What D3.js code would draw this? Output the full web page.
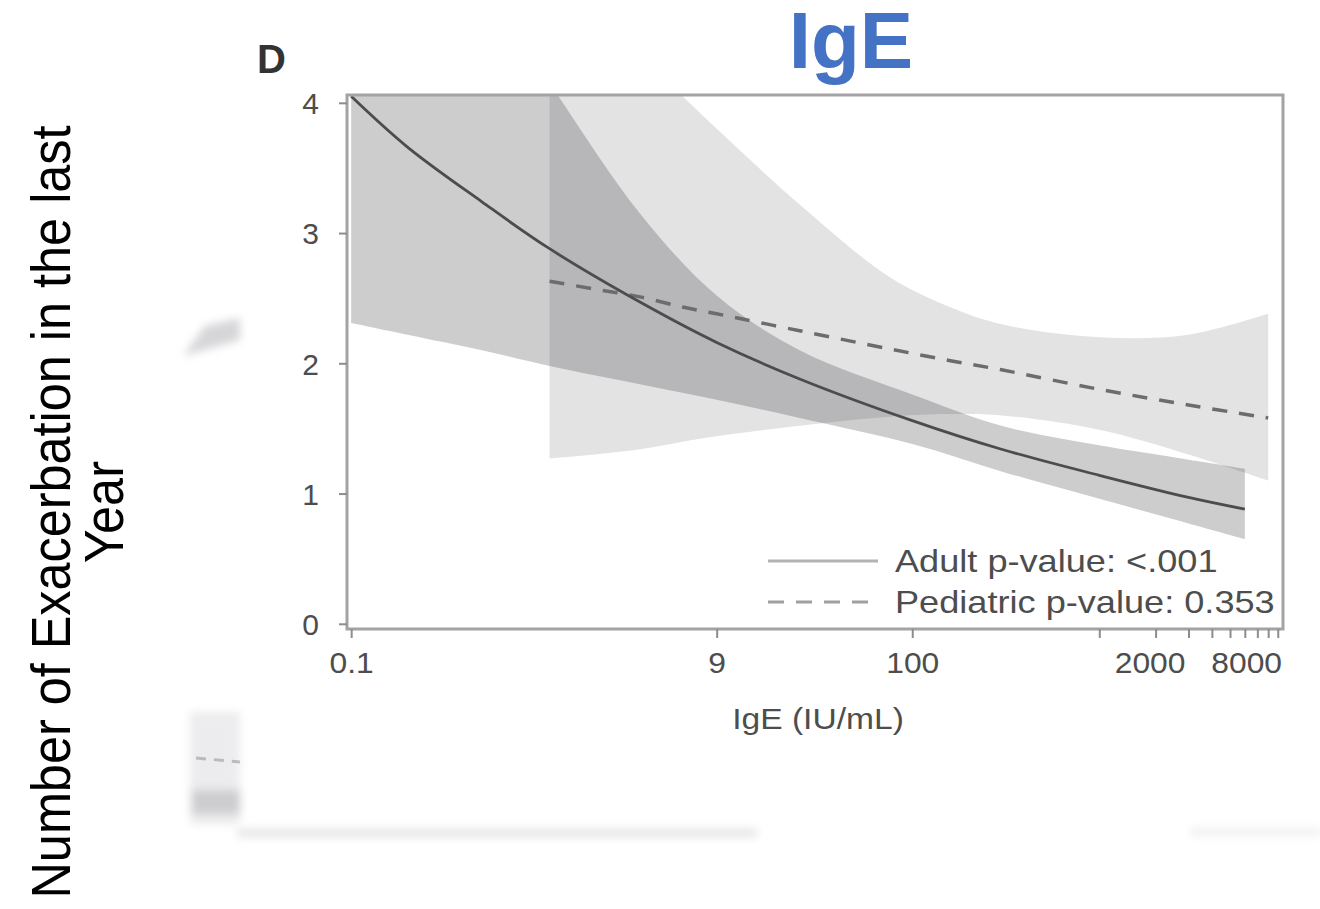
<!DOCTYPE html>
<html>
<head>
<meta charset="utf-8">
<script src="https://cdn.jsdelivr.net/npm/d3@7"></script>
<style>
  html, body { margin: 0; padding: 0; background: #fff; }
  svg { display: block; font-family: "Liberation Sans", Arial, Helvetica, sans-serif; }
</style>
</head>
<body>
<div id="chart"></div>
<script>
// =============================================================================
// Data (IgE in IU/mL, exacerbations per year)
// =============================================================================
const adultIgE   = [0.1, 0.2, 0.5, 1.15, 3.5, 9, 25, 100, 300, 1000, 3000, 6000];
const adultMean  = [4.05, 3.66, 3.24, 2.88, 2.47, 2.16, 1.88, 1.56, 1.34, 1.14, 0.97, 0.88];
const adultLower = [2.31, 2.22, 2.10, 1.98, 1.84, 1.72, 1.58, 1.38, 1.17, 0.96, 0.77, 0.65];
const adultUpper = [8.0, 6.2, 4.9, 4.15, 3.15, 2.52, 2.10, 1.76, 1.52, 1.37, 1.26, 1.19];

const pedIgE   = [1.15, 2, 3.5, 6, 9, 25, 76, 160, 300, 1000, 3000, 8000];
const pedMean  = [2.63, 2.57, 2.51, 2.43, 2.38, 2.25, 2.11, 2.02, 1.95, 1.80, 1.68, 1.58];
const pedLower = [1.27, 1.30, 1.34, 1.40, 1.44, 1.52, 1.59, 1.61, 1.60, 1.49, 1.30, 1.10];
const pedUpper = [4.97, 4.66, 4.34, 4.04, 3.80, 3.22, 2.66, 2.43, 2.30, 2.20, 2.22, 2.38];

const xTickValues = [0.1, 9, 100, 1000, 2000, 3000, 4000, 5000, 6000, 7000, 8000, 9000];
const xTickLabels = ['0.1', '9', '100', '', '2000', '', '', '', '', '', '8000', ''];
const yTickValues = [0, 1, 2, 3, 4];

const legendLabels = ['Adult p-value: <.001', 'Pediatric p-value: 0.353'];

// =============================================================================
// Visual configuration
// =============================================================================
const W = 1320, H = 909;
const PLOT = { left: 347, right: 1283, top: 95, bottom: 629 };
const FRAME_COLOR = '#a3a3a5';
const TEXT_COLOR = '#4d4d4d';
const ADULT_LINE = '#4c4c4e';
const PED_LINE = '#6c6c6e';
const FONT = '"Liberation Sans", Arial, Helvetica, sans-serif';

const svg = d3.select('#chart').append('svg')
    .attr('width', W)
    .attr('height', H);

const defs = svg.append('defs');
defs.append('clipPath').attr('id', 'plot-clip')
    .append('rect')
    .attr('x', PLOT.left).attr('y', PLOT.top)
    .attr('width', PLOT.right - PLOT.left)
    .attr('height', PLOT.bottom - PLOT.top);
defs.append('filter').attr('id', 'soft')
    .append('feGaussianBlur').attr('stdDeviation', 4);

// Faint remnants of the slide behind the figure
const ghost = svg.append('g').attr('filter', 'url(#soft)');
ghost.append('path')
    .attr('d', 'M183,356 L240,340 L240,318 L205,326 Z')
    .attr('fill', '#d6d6d8');
ghost.append('rect').attr('x', 190).attr('y', 712).attr('width', 50).attr('height', 112)
    .attr('fill', '#ececee');
ghost.append('rect').attr('x', 192).attr('y', 790).attr('width', 48).attr('height', 24)
    .attr('fill', '#cdcdcf');
ghost.append('rect').attr('x', 237).attr('y', 829).attr('width', 520).attr('height', 8)
    .attr('fill', '#e4e4e6');
ghost.append('rect').attr('x', 1190).attr('y', 829).attr('width', 130).attr('height', 6)
    .attr('fill', '#ececee');
svg.append('line').attr('x1', 196).attr('x2', 240).attr('y1', 758).attr('y2', 762)
    .attr('stroke', '#9a9a9c').attr('stroke-width', 3).attr('stroke-dasharray', '10,8')
    .attr('opacity', 0.6);

// Scales
const x = d3.scaleLog().domain([0.095, 9600]).range([PLOT.left, PLOT.right]);
const y = d3.scaleLinear().domain([-0.04, 4.06]).range([PLOT.bottom, PLOT.top]);

const toRows = (xs, mean, lo, hi) => xs.map((v, i) => ({ x: v, m: mean[i], lo: lo[i], hi: hi[i] }));
const adult = toRows(adultIgE, adultMean, adultLower, adultUpper);
const ped = toRows(pedIgE, pedMean, pedLower, pedUpper);

const smooth = d3.curveCatmullRom.alpha(0.5);
const band = d3.area()
    .x(d => x(d.x)).y0(d => y(d.lo)).y1(d => y(d.hi))
    .curve(smooth);
const mid = d3.line()
    .x(d => x(d.x)).y(d => y(d.m))
    .curve(smooth);

const plot = svg.append('g').attr('clip-path', 'url(#plot-clip)');

plot.append('path').datum(ped)
    .attr('d', band)
    .attr('fill', '#1a1a22').attr('fill-opacity', 0.12);
plot.append('path').datum(adult)
    .attr('d', band)
    .attr('fill', '#1a1a22').attr('fill-opacity', 0.22);

plot.append('path').datum(ped)
    .attr('d', mid)
    .attr('fill', 'none')
    .attr('stroke', PED_LINE).attr('stroke-width', 3.5)
    .attr('stroke-dasharray', '15,12');
plot.append('path').datum(adult)
    .attr('d', mid)
    .attr('fill', 'none')
    .attr('stroke', ADULT_LINE).attr('stroke-width', 2.8);

// Frame
svg.append('rect')
    .attr('x', PLOT.left).attr('y', PLOT.top)
    .attr('width', PLOT.right - PLOT.left)
    .attr('height', PLOT.bottom - PLOT.top)
    .attr('fill', 'none')
    .attr('stroke', FRAME_COLOR).attr('stroke-width', 3);

// Axes
const xAxis = svg.append('g')
    .attr('transform', `translate(0,${PLOT.bottom})`)
    .call(d3.axisBottom(x)
        .tickValues(xTickValues)
        .tickFormat((d, i) => xTickLabels[i])
        .tickSize(9)
        .tickPadding(14));

const yAxis = svg.append('g')
    .attr('transform', `translate(${PLOT.left},0)`)
    .call(d3.axisLeft(y)
        .tickValues(yTickValues)
        .tickFormat(d3.format('d'))
        .tickSize(8)
        .tickPadding(20));

[xAxis, yAxis].forEach(ax => {
    ax.select('.domain').remove();
    ax.selectAll('.tick line').attr('stroke', '#8d8d8f').attr('stroke-width', 2);
    ax.selectAll('.tick text')
        .attr('fill', TEXT_COLOR)
        .style('font-family', FONT)
        .style('font-size', '30px');
});
// the two right-hand labels sit a little left of their ticks in the figure
xAxis.selectAll('.tick text')
    .attr('transform', d => `translate(${d === 8000 ? -22 : d === 2000 ? -6 : 0},0) scale(1.06,1)`);
yAxis.selectAll('.tick text').attr('dy', '0.36em');

// Axis title
svg.append('text')
    .attr('transform', 'translate(818,729) scale(1.12,1)')
    .attr('text-anchor', 'middle')
    .attr('fill', TEXT_COLOR)
    .style('font-size', '30px')
    .text('IgE (IU/mL)');

// Legend
const legend = svg.append('g');
legendLabels.forEach((label, i) => {
    const ly = 561 + i * 41;
    legend.append('line')
        .attr('x1', 768).attr('x2', 878)
        .attr('y1', ly).attr('y2', ly)
        .attr('stroke', i === 0 ? '#b3b3b5' : '#a0a0a2')
        .attr('stroke-width', 3)
        .attr('stroke-dasharray', i === 0 ? null : '16,12');
    legend.append('text')
        .attr('transform', `translate(895,${ly + 11}) scale(1.13,1)`)
        .attr('fill', TEXT_COLOR)
        .style('font-size', '32px')
        .text(label);
});

// Panel letter and title
svg.append('text')
    .attr('x', 257).attr('y', 73)
    .attr('fill', '#333')
    .style('font-size', '40px')
    .style('font-weight', 'bold')
    .text('D');

svg.append('text')
    .attr('x', 851).attr('y', 68)
    .attr('text-anchor', 'middle')
    .attr('fill', '#4472c4')
    .style('font-size', '80px')
    .style('font-weight', 'bold')
    .text('IgE');

// Y axis title (two lines, rotated, slightly condensed like the slide text)
const yTitle = svg.append('text')
    .attr('transform', 'translate(70,512) rotate(-90) scale(0.9,1)')
    .attr('text-anchor', 'middle')
    .attr('fill', '#000')
    .style('font-size', '56px');
yTitle.append('tspan').attr('x', 0).attr('y', 0).text('Number of Exacerbation in the last');
yTitle.append('tspan').attr('x', 0).attr('y', 53).text('Year');
</script>
</body>
</html>
